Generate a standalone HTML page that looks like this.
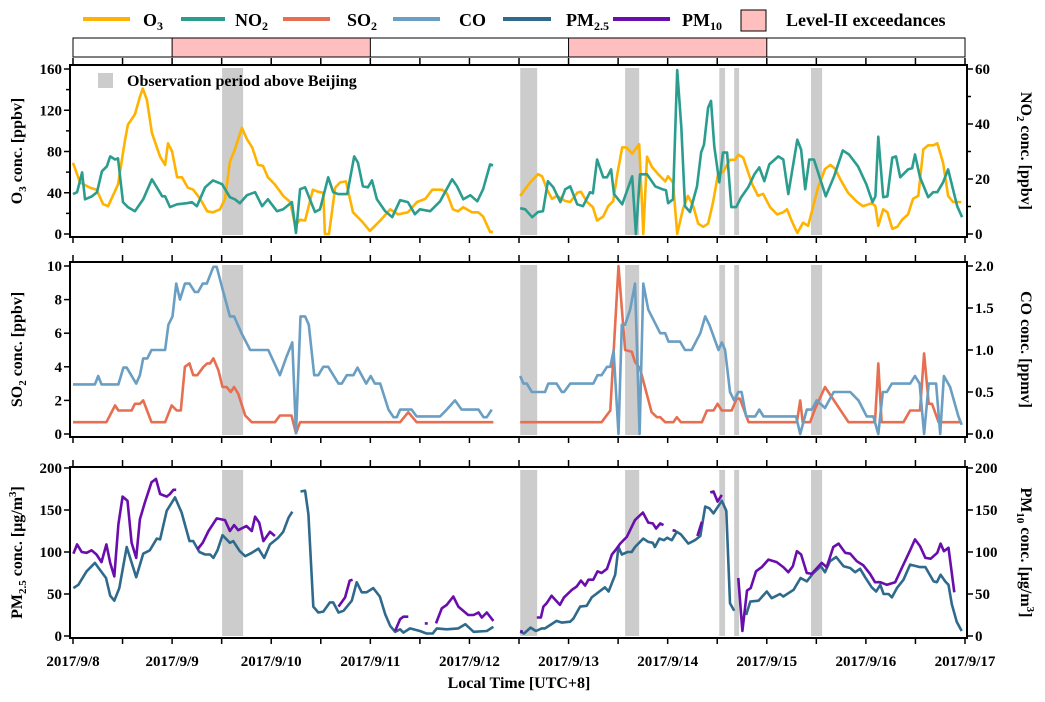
<!DOCTYPE html>
<html><head><meta charset="utf-8">
<style>
html,body{margin:0;padding:0;background:#fff;}
svg{display:block;font-family:"Liberation Serif",serif;font-weight:bold;}
</style></head>
<body>
<svg id="chart" width="1045" height="702" viewBox="0 0 1045 702" xmlns="http://www.w3.org/2000/svg">
  <g id="legend" font-size="18">
    <g><line x1="83" y1="19" x2="130" y2="19" stroke="#FFB300" stroke-width="4"/><text x="143" y="26">O<tspan font-size="12" dy="4">3</tspan></text></g>
    <g><line x1="181" y1="19" x2="225" y2="19" stroke="#2A9D8F" stroke-width="4"/><text x="235" y="26">NO<tspan font-size="12" dy="4">2</tspan></text></g>
    <g><line x1="283" y1="19" x2="330" y2="19" stroke="#E76F51" stroke-width="4"/><text x="347" y="26">SO<tspan font-size="12" dy="4">2</tspan></text></g>
    <g><line x1="393" y1="19" x2="440" y2="19" stroke="#6A9EC2" stroke-width="4"/><text x="459" y="26">CO</text></g>
    <g><line x1="503" y1="19" x2="551" y2="19" stroke="#2F6A8C" stroke-width="4"/><text x="566" y="26">PM<tspan font-size="12" dy="4">2.5</tspan></text></g>
    <g><line x1="613" y1="19" x2="670" y2="19" stroke="#6A0DAD" stroke-width="4"/><text x="682" y="26">PM<tspan font-size="12" dy="4">10</tspan></text></g>
    <g><rect x="741" y="10" width="25" height="21" fill="#FFBFBF" stroke="#000" stroke-width="1"/><text x="786" y="26">Level-II exceedances</text></g>
  </g>
  <g id="topbar"></g>
  <g id="plots"></g>
  <text x="519" y="688" font-size="16" text-anchor="middle">Local Time [UTC+8]</text>
</svg>
<script>
const hoursTotal = 216;
const dayLabels = ["2017/9/8","2017/9/9","2017/9/10","2017/9/11","2017/9/12","2017/9/13","2017/9/14","2017/9/15","2017/9/16","2017/9/17"];
const exceedStart = [24,120];
const exceedEnd = [72,168];
const obsStart = [36.1,108.3,133.7,156.5,160.1,178.7];
const obsEnd = [41.2,112.4,137.1,157.9,161.3,181.4];

const O3 = [[0,69],[1.7,50],[4.1,45],[5.7,43],[7.3,29],[8.5,27],[10.9,48],[12.6,91],[13.3,106],[15.0,116],[16.2,133],[16.9,141],[17.9,130],[19.1,98],[21.1,75],[22.3,67],[23.0,88],[24.0,80],[25.2,55],[26.4,55],[27.8,45],[29.1,43],[30.8,34],[32.5,22],[33.9,21],[35.6,24],[36.8,34],[38.0,70],[39.2,82],[40.9,103],[42.1,92],[43.4,84],[44.8,67],[46.0,66],[47.2,55],[48.9,48],[50.9,37],[52.6,31],[53.8,8],[55.0,14],[56.2,13],[58.1,43],[59.3,41],[60.6,40],[61.0,0],[62.0,0],[63.5,45],[64.7,50],[66.1,51],[67.8,21],[70.0,12],[71.9,3],[74.4,13],[76.8,24],[78.7,19],[81.1,21],[83.3,31],[85.3,34],[87.0,43],[89.4,43],[90.6,39],[92.0,24],[93.2,22],[94.5,26],[96.6,21],[98.1,21],[99.3,17],[101.0,2],[101.7,2],[105,null],
[108.3,37],[110.7,50],[112.6,58],[113.6,56],[114.8,43],[116.0,34],[117.2,37],[119.2,32],[120.4,31],[122.1,40],[123.0,41],[124.5,31],[125.9,26],[126.9,13],[128.4,17],[129.6,27],[130.8,32],[131.8,58],[133.0,84],[134.0,84],[135.4,78],[137.1,87],[137.8,27],[138.1,0],[139.0,75],[140.2,65],[141.7,58],[143.4,51],[144.1,56],[145.3,50],[146.3,0],[147.7,24],[148.9,37],[150.2,27],[151.4,10],[152.6,7],[153.8,10],[155.0,31],[156.2,58],[157.4,60],[159.1,72],[160.3,72],[161.1,77],[162.3,74],[164.5,48],[165.9,37],[167.1,39],[168.8,26],[170.5,19],[172.0,21],[172.9,24],[174.1,12],[175.4,1],[176.8,11],[178.0,8],[179.2,26],[180.4,45],[182.1,63],[183.4,67],[184.6,63],[185.8,53],[187.7,40],[189.9,31],[191.3,27],[193.5,30],[194.3,27],[195.0,8],[196.2,24],[197.2,21],[198.4,5],[199.6,7],[200.8,14],[202.2,19],[203.4,34],[204.7,37],[205.9,82],[207.1,86],[208.3,86],[209.3,88],[210.7,69],[211.9,37],[213.1,31],[215.1,31]];

const NO2 = [[0,14.5],[1.0,15.2],[2.2,22.4],[2.9,12.6],[4.6,13.7],[5.8,15.2],[7.0,22.8],[8.2,24.6],[9.0,28.2],[10.2,27.1],[10.9,27.5],[12.1,11.6],[13.3,9.8],[15.0,8.3],[17.0,12.6],[19.1,19.9],[20.3,17.0],[21.6,13.7],[22.3,13.7],[23.5,9.8],[25.2,10.8],[27.6,11.2],[28.8,11.6],[30.0,10.1],[32.0,17.0],[33.9,19.5],[36.1,18.1],[38.0,13.4],[39.2,12.6],[40.4,11.2],[42.1,14.1],[44.1,15.2],[45.8,10.1],[47.2,12.6],[49.4,8.3],[50.9,9.0],[53.0,11.6],[54.0,0.4],[55.0,16.3],[56.2,17.0],[58.6,8.0],[59.8,9.0],[61.8,20.6],[63.0,15.2],[64.2,14.5],[66.4,14.5],[68.1,28.2],[69.0,26.0],[70.2,17.3],[71.4,17.0],[72.4,19.5],[73.6,12.6],[75.6,8.3],[77.3,6.1],[79.2,12.3],[81.1,11.6],[82.8,7.2],[84.0,9.0],[86.5,8.3],[88.9,11.9],[91.8,19.9],[93.0,17.3],[94.5,12.6],[96.2,14.1],[97.9,11.9],[99.3,16.3],[101.0,25.3],[101.7,24.9],[105,null],
[108.3,9.4],[109.5,9.0],[111.2,6.1],[112.6,8.0],[113.8,8.3],[115.0,19.2],[116.3,17.0],[118.0,11.6],[119.2,16.3],[120.4,17.3],[122.1,10.8],[123.5,10.1],[125.2,15.2],[125.9,14.8],[126.9,27.1],[128.4,20.6],[129.3,20.6],[130.3,23.5],[131.0,14.5],[133.0,10.8],[135.4,21.0],[136.3,0],[137.3,21.7],[139.0,21.7],[141.0,17.3],[142.7,16.3],[143.6,15.9],[144.1,11.2],[145.3,12.6],[146.3,59.6],[147.3,39.0],[148.2,10.1],[149.4,8.0],[151.1,17.3],[152.1,29.6],[152.8,32.5],[153.8,45.9],[154.5,48.4],[155.3,31.8],[156.5,18.8],[157.4,29.6],[158.4,29.6],[159.4,9.8],[160.6,9.8],[161.8,13.4],[163.5,17.0],[165.0,21.7],[166.2,24.2],[167.4,19.2],[168.6,25.3],[170.8,28.2],[172.0,27.1],[173.2,14.5],[175.4,34.3],[176.3,30.7],[177.3,16.3],[178.3,27.1],[179.4,27.1],[182.3,13.7],[184.3,21.0],[186.4,30.4],[187.9,28.9],[190.1,24.6],[192.1,18.1],[193.6,11.6],[194.3,13.7],[195.0,35.4],[196.2,13.4],[197.2,13.7],[198.4,27.8],[199.3,28.2],[200.3,20.6],[202.2,23.5],[203.2,23.9],[203.9,28.9],[205.1,20.6],[207.1,13.4],[208.3,15.2],[209.3,15.2],[210.7,18.8],[211.9,23.5],[214.1,10.1],[215.3,6.1]];

const SO2 = [[0,0.7],[8.1,0.7],[10.2,1.7],[11.0,1.4],[14.2,1.4],[15.0,1.8],[16.2,1.8],[17.0,2.0],[19.0,0.7],[22.3,0.7],[23.9,1.7],[25.1,1.4],[26.1,1.4],[27.1,4.0],[28.2,4.2],[29.1,3.5],[30.1,3.5],[31.6,4.0],[32.5,4.2],[33.2,4.2],[34.0,4.5],[35.2,3.8],[36.2,2.8],[37.2,2.8],[38.2,2.5],[39.0,2.8],[40.0,2.4],[41.7,1.1],[43.3,0.7],[48.9,0.7],[50.1,1.1],[52.9,1.1],[54.0,0.04],[55.0,0.7],[79.2,0.7],[81.2,1.3],[83.2,0.7],[101.8,0.7],[105,null],
[108.3,0.7],[128.0,0.7],[130.1,1.4],[132.1,10.0],[133.7,5.0],[135.3,4.9],[136.1,4.3],[137.3,3.9],[140.1,1.3],[141.4,1.0],[142.2,1.0],[143.4,0.7],[145.4,0.7],[146.2,1.0],[147.2,0.7],[152.3,0.7],[153.5,1.4],[155.1,1.4],[156.1,1.8],[157.1,1.4],[159.5,1.4],[160.7,2.1],[161.5,2.1],[163.6,0.7],[175.3,0.7],[176.1,2.0],[176.7,0.7],[178.5,0.7],[179.7,1.5],[182.1,2.8],[187.8,0.7],[194.2,0.7],[195.0,4.2],[195.8,0.7],[201.1,0.7],[202.7,1.4],[205.1,1.4],[206.1,4.8],[207.2,1.8],[208.0,1.8],[209.6,0.7],[214.8,0.7]];

const CO = [[0,0.59],[5.3,0.59],[6.1,0.69],[6.9,0.59],[11.0,0.59],[12.2,0.79],[13.0,0.79],[15.3,0.6],[16.2,0.7],[17.0,0.9],[18.0,0.9],[19.0,1.0],[22.3,1.0],[23.1,1.3],[24.1,1.4],[25.0,1.79],[25.9,1.6],[27.1,1.79],[28.2,1.79],[29.5,1.69],[30.3,1.69],[31.4,1.79],[32.4,1.79],[34.0,1.99],[34.8,1.99],[36.4,1.69],[38.0,1.4],[39.0,1.4],[40.8,1.2],[42.9,1.0],[47.3,1.0],[50.1,0.7],[51.7,0.92],[53.1,1.09],[54.0,0.01],[55.1,1.4],[56.2,1.4],[57.1,1.3],[58.4,0.7],[59.4,0.7],[60.6,0.8],[61.8,0.8],[64.3,0.6],[65.1,0.6],[66.3,0.7],[67.9,0.7],[68.9,0.79],[71.0,0.6],[72.1,0.69],[73.1,0.6],[74.4,0.6],[76.4,0.29],[77.6,0.2],[78.4,0.2],[79.2,0.29],[82.0,0.29],[83.2,0.21],[88.9,0.21],[90.5,0.29],[92.5,0.4],[94.1,0.29],[98.2,0.29],[99.4,0.2],[100.2,0.2],[101.4,0.29],[105,null],
[108.3,0.69],[109.1,0.6],[109.9,0.6],[111.1,0.5],[114.3,0.5],[115.1,0.6],[117.1,0.6],[118.4,0.5],[118.9,0.5],[120.4,0.6],[126.0,0.6],[127.0,0.7],[128.0,0.7],[129.3,0.8],[130.1,0.8],[130.9,0.99],[132.1,0],[132.9,1.3],[133.7,1.3],[134.9,1.48],[136.1,1.79],[137.2,0],[138.1,1.79],[139.3,1.48],[142.2,1.2],[143.4,1.2],[144.2,1.1],[147.0,1.1],[148.2,1.0],[149.8,1.0],[151.9,1.2],[153.1,1.4],[154.1,1.3],[156.3,1.0],[157.1,1.09],[157.9,1.0],[159.1,0.5],[160.1,0.4],[161.1,0.5],[161.9,0.5],[163.0,0.21],[165.2,0.21],[166.2,0.29],[167.2,0.21],[175.1,0.21],[176.1,0],[177.7,0.29],[178.9,0.29],[180.1,0.4],[182.1,0.31],[184.2,0.5],[188.2,0.5],[190.2,0.4],[192.2,0.21],[193.8,0.21],[195.0,0],[196.1,0.5],[197.1,0.5],[198.3,0.6],[202.7,0.6],[203.9,0.69],[205.0,0.6],[206.1,0],[207.2,0.6],[209.0,0.6],[210.0,0],[210.9,0.69],[212.4,0.56],[214.4,0.21],[215.2,0.11]];

const PM25 = [[0.1,57],[1.3,61],[3.3,77],[5.3,87],[6.5,79],[8.0,69],[9.0,48],[10.0,42],[11.2,57],[13.0,106],[15.3,70],[17.0,98],[18.6,102],[20.3,116],[21.1,115],[22.7,149],[24.7,165],[26.3,147],[28.2,113],[29.1,113],[30.6,100],[32.0,97],[33.2,97],[34.0,93],[35.0,102],[36.2,120],[38.0,111],[38.8,113],[40.4,101],[41.7,95],[43.3,99],[44.9,104],[46.3,93],[47.7,109],[49.7,117],[50.9,124],[52.2,141],[53.1,148],[54,null],[55.1,172],[56.2,173],[57.0,145],[58.2,35],[59.4,28],[60.6,29],[62.2,40],[63.0,40],[64.3,28],[65.5,30],[67.5,42],[68.7,64],[69.9,52],[71.1,52],[72.7,57],[74.3,47],[75.6,26],[76.8,12],[78.0,5],[79.2,8],[80.0,4],[81.6,9],[84.0,6],[85.6,3],[87.1,3],[88.1,9],[90.5,8],[93.3,9],[95.0,14],[97.0,5],[100.2,6],[101.8,11],[105,null],
[108.3,5],[109.2,3],[110.8,10],[112.1,6],[113.5,9],[114.3,9],[117.1,18],[118.4,16],[120.4,17],[121.2,21],[122.8,35],[124.4,36],[125.6,46],[128.8,58],[129.7,53],[131.3,73],[132.1,106],[132.9,97],[134.3,100],[135.3,100],[136.1,106],[138.1,116],[139.3,112],[140.4,111],[140.9,106],[142.0,116],[143.1,114],[143.9,117],[145.0,114],[146.2,124],[147.2,121],[149.0,110],[150.6,114],[151.9,119],[153.1,154],[154.1,152],[155.1,146],[156.3,155],[157.1,161],[158.2,149],[159.1,39],[160.1,30],[161.5,null],[163.0,25],[164.0,41],[166.0,42],[168.0,53],[169.2,45],[171.2,50],[172.0,47],[174.5,55],[176.2,69],[177.7,65],[179.3,75],[181.1,83],[182.1,76],[183.3,89],[184.8,94],[186.6,83],[188.2,81],[189.4,76],[190.6,80],[191.8,70],[193.4,58],[194.5,53],[195.5,61],[196.3,50],[197.5,50],[198.3,46],[199.5,57],[201.1,67],[202.7,85],[205.1,82],[206.4,82],[208.4,65],[209.2,64],[210.1,73],[211.2,65],[212.0,61],[212.8,38],[214.0,17],[215.2,6]];

const PM10 = [[0.1,98],[1.0,109],[2.1,100],[3.3,99],[4.5,102],[5.7,97],[6.9,88],[8.1,109],[9.0,87],[10.0,71],[11.0,133],[12.0,166],[13.2,161],[14.2,111],[15.3,93],[16.2,139],[17.4,159],[19.0,183],[20.1,187],[21.1,169],[22.7,166],[23.5,169],[24.3,174],[25.0,174],[26,null],[30.1,103],[31.4,111],[32.8,125],[34.8,140],[36.8,138],[38.0,125],[39.0,132],[40.0,126],[42.0,131],[43.3,125],[44.1,142],[45.1,135],[46.1,113],[47.7,124],[48.9,119],[50,null],[64.3,35],[65.9,46],[67.0,66],[67.7,67],[70,null],[78.0,6],[79.2,20],[80.0,23],[81.2,23],[83,null],[85.2,15],[85.9,15],[87,null],[87.9,15],[89.3,33],[90.5,37],[92.1,47],[93.3,35],[95.7,25],[97.0,25],[98.2,28],[99.0,22],[100.2,28],[101.8,18],[105,null],
[108.3,6],[108.9,5],[110,null],[112.3,22],[113.3,22],[113.9,35],[114.7,39],[115.9,48],[117.9,37],[118.9,46],[120.8,55],[122.0,59],[123.0,66],[124.0,60],[124.8,67],[126.0,67],[127.0,77],[128.0,75],[129.3,80],[130.5,97],[131.5,103],[132.5,110],[134.1,118],[136.1,138],[138.0,147],[139.3,135],[140.4,134],[141.2,128],[142.2,134],[143.0,132],[144,null],[145.2,126],[146.0,125],[147,null],[151.2,119],[152.3,136],[153,null],[154.3,171],[155.1,172],[156.1,160],[157.1,168],[158,null],[161.1,69],[162.1,6],[163.2,54],[164.1,57],[165.4,77],[166.8,82],[168.4,91],[170.4,88],[172.0,82],[173.2,76],[174.3,83],[175.3,101],[176.3,97],[177.7,75],[178.9,74],[181.3,87],[182.5,82],[184.1,106],[185.4,110],[187.0,99],[188.2,98],[189.8,89],[191.4,84],[193.0,74],[194.2,64],[195.5,64],[197.1,61],[199.1,64],[200.7,81],[202.7,102],[203.9,115],[205.1,107],[206.4,93],[207.7,92],[209.3,99],[210.1,110],[210.9,101],[212.0,105],[213.4,52]];

const o3Ticks = [0,40,80,120,160];
const no2Ticks = [0,20,40,60];
const so2Ticks = [0,2,4,6,8,10];
const coTicks = ["0.0","0.5","1.0","1.5","2.0"];
const pmTicks = [0,50,100,150,200];

const NS = "http://www.w3.org/2000/svg";
const X0 = 73, X1 = 965, FL = 70, FR = 967;
function x(h){ return X0 + h * (X1 - X0) / hoursTotal; }
function mk(tag, attrs, parent){ const e = document.createElementNS(NS, tag); for (const k in attrs) e.setAttribute(k, attrs[k]); parent.appendChild(e); return e; }
function lin(v0, v1, p0, p1){ return v => p0 + (v - v0) * (p1 - p0) / (v1 - v0); }
const plots = document.getElementById('plots');

const panels = [
  {name:'gas-panel-1', top:65, bottom:237, yL:lin(0,160,234,69), yR:lin(0,60,234,69), lTicks:o3Ticks, lMinor:[20,60,100,140], rTicks:no2Ticks, rMinor:[10,30,50],
   ltitle:['O',['3'],' conc. [ppbv]'], rtitle:['NO',['2'],' conc. [ppbv]'], series:[[O3,'#FFB300','L','o3-line'],[NO2,'#2A9D8F','R','no2-line']]},
  {name:'gas-panel-2', top:262, bottom:437, yL:lin(0,10,434,266), yR:lin(0,2,434,266), lTicks:so2Ticks, lMinor:[], rTicks:coTicks, rMinor:[],
   ltitle:['SO',['2'],'  conc. [ppbv]'], rtitle:['CO conc. [ppmv]'], series:[[SO2,'#E76F51','L','so2-line'],[CO,'#6A9EC2','R','co-line']]},
  {name:'pm-panel', top:467, bottom:638, yL:lin(0,200,636,468), yR:lin(0,200,636,468), lTicks:pmTicks, lMinor:[], rTicks:pmTicks, rMinor:[],
   ltitle:['PM',['2.5'],' conc. [μg/m',['^3'],']'], rtitle:['PM',['10'],' conc. [μg/m',['^3'],']'], series:[[PM25,'#2F6A8C','L','pm25-line'],[PM10,'#6A0DAD','R','pm10-line']], xlabels:true}
];

const tb = document.getElementById('topbar');
const bg = mk('rect',{x:X0,y:38,width:X1-X0,height:19,fill:'#fff',stroke:'#000','stroke-width':1},tb);


for (let i=0;i<exceedStart.length;i++){
  const r = mk('rect',{x:x(exceedStart[i]),y:38,width:x(exceedEnd[i])-x(exceedStart[i]),height:19,fill:'#FFBFBF',stroke:'#000','stroke-width':1},tb);
  
  
}

function titleText(parent, parts, tx, ty, rot, name){
  const t = mk('text',{x:0,y:0,'font-size':16,'text-anchor':'middle',transform:`translate(${tx},${ty}) rotate(${rot})`},parent);
  
  
  let shift = 0;
  parts.forEach(p=>{
    if (typeof p === 'string'){ const s = mk('tspan',{dy:-shift},t); s.textContent = p; shift = 0; }
    else { const sup = p[0].startsWith('^'); const d = sup ? -6 : 4; const s = mk('tspan',{'font-size':11,dy:d},t); s.textContent = sup ? p[0].slice(1) : p[0]; shift = d; }
  });
}

panels.forEach((P, pi) => {
  const g = mk('g',{},plots);
  
  
  for (let i=0;i<obsStart.length;i++){
    const r = mk('rect',{x:x(obsStart[i]),y:P.top+3,width:x(obsEnd[i])-x(obsStart[i]),height:P.bottom-P.top-5,fill:'#CCCCCC'},g);
    
    
  }
  P.series.forEach(([data,color,side,nm])=>{
    const ys = side==='L' ? P.yL : P.yR;
    let d = '', pen = false;
    data.forEach(([h,v])=>{
      if (v === null){ pen = false; return; }
      d += (pen ? 'L' : 'M') + x(h).toFixed(1) + ' ' + ys(v).toFixed(1);
      pen = true;
    });
    const p = mk('path',{d:d,fill:'none',stroke:color,'stroke-width':2.6,'stroke-linejoin':'round'},g);
    
    
  });
  const fr = mk('rect',{x:FL,y:P.top,width:FR-FL,height:P.bottom-P.top,fill:'none',stroke:'#000','stroke-width':2},g);
  
  
  const axg = mk('g',{stroke:'#000','stroke-width':1.5},g);
  
  
  for (let h=0; h<=hoursTotal; h+=12){
    mk('line',{x1:x(h),y1:P.bottom,x2:x(h),y2:P.bottom+6},axg);
    mk('line',{x1:x(h),y1:P.top,x2:x(h),y2:P.top-7},axg);
  }
  const lg = mk('g',{'font-size':15,'text-anchor':'end'},g);
  
  
  P.lTicks.forEach(v=>{
    const y = P.yL(+v);
    mk('line',{x1:FL-6,y1:y,x2:FL,y2:y,stroke:'#000','stroke-width':1.5},lg);
    const t = mk('text',{x:FL-8,y:y+5},lg); t.textContent = v;
  });
  P.lMinor.forEach(v=>{ const y=P.yL(v); mk('line',{x1:FL-4,y1:y,x2:FL,y2:y,stroke:'#000','stroke-width':1.5},lg); });
  const rg = mk('g',{'font-size':15,'text-anchor':'start'},g);
  
  
  P.rTicks.forEach(v=>{
    const y = P.yR(+v);
    mk('line',{x1:FR,y1:y,x2:FR+6,y2:y,stroke:'#000','stroke-width':1.5},rg);
    const t = mk('text',{x:FR+8,y:y+5},rg); t.textContent = v;
  });
  P.rMinor.forEach(v=>{ const y=P.yR(v); mk('line',{x1:FR,y1:y,x2:FR+4,y2:y,stroke:'#000','stroke-width':1.5},rg); });
  const mid = (P.top+P.bottom)/2;
  titleText(g, P.ltitle, 22, mid, -90, 'left-y-axis-title');
  titleText(g, P.rtitle, 1021, mid, 90, 'right-y-axis-title');
  if (P.xlabels){
    const xl = mk('g',{'font-size':15,'text-anchor':'middle'},g);
    
    
    dayLabels.forEach((lab,i)=>{ const t = mk('text',{x:x(i*24),y:666},xl); t.textContent = lab; });
  }
  if (pi === 0){
    const lg2 = mk('g',{},g);
    
    
    mk('rect',{x:98,y:73,width:15,height:15,fill:'#CCCCCC'},lg2);
    const t = mk('text',{x:127,y:86,'font-size':16},lg2); t.textContent = 'Observation period above Beijing';
  }
});
</script>
</body></html>
